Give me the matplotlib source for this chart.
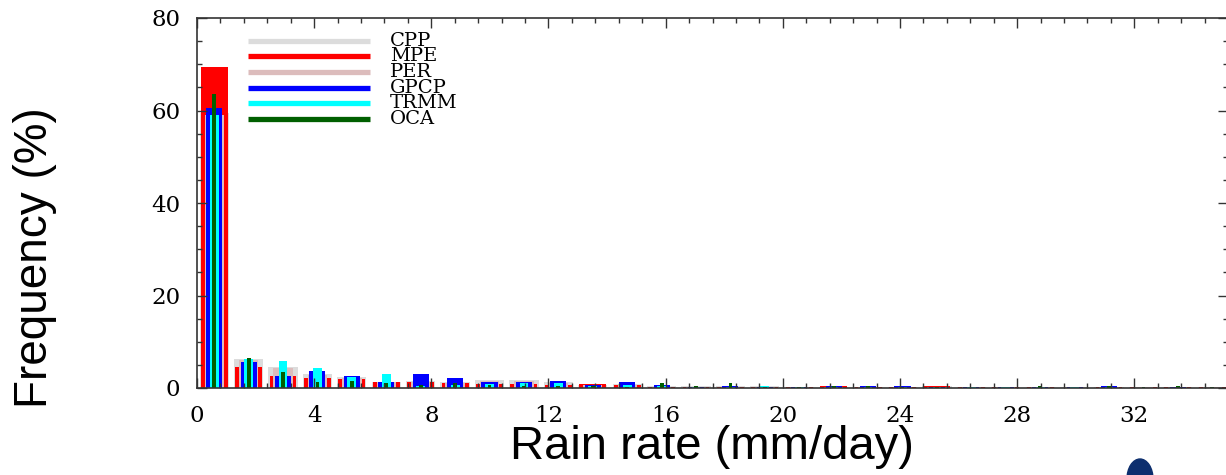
import numpy as np
import matplotlib
matplotlib.use("Agg")
import matplotlib.pyplot as plt
from matplotlib.lines import Line2D
from matplotlib.patches import Ellipse
from matplotlib.ticker import MultipleLocator

# Rain-rate histogram bins (mm/day)
bin_width = 1.175
bin_start = 0.0
n_bins = 30
bin_centers = bin_start + bin_width * (np.arange(n_bins) + 0.5)

# Frequency (%) per bin for each product
cpp = [59.5, 6.3, 4.5, 3.0, 2.4, 1.4, 1.5, 1.3, 1.7, 1.7,
       1.2, 0.7, 0.8, 0.4, 0.4, 0.4, 0.35, 0.3, 0.3, 0.3,
       0.25, 0.4, 0.3, 0.2, 0.25, 0.2, 0.2, 0.25, 0.2, 0.2]
mpe = [69.5, 4.5, 2.6, 2.1, 1.9, 1.4, 1.4, 1.1, 0.9, 0.9,
       0.6, 0.8, 0.6, 0.3, 0.3, 0.2, 0.2, 0.3, 0.35, 0.2,
       0.2, 0.4, 0.25, 0.15, 0.3, 0.1, 0.15, 0.25, 0.3, 0.2]
per = [59.0, 6.0, 4.3, 2.8, 2.2, 1.3, 1.3, 1.0, 1.6, 1.5,
       1.0, 0.6, 0.7, 0.3, 0.3, 0.3, 0.3, 0.25, 0.25, 0.25,
       0.2, 0.3, 0.2, 0.15, 0.2, 0.15, 0.15, 0.2, 0.2, 0.15]
gpcp = [60.5, 5.7, 2.6, 3.7, 2.6, 1.4, 3.0, 2.2, 1.2, 1.4,
        1.5, 0.55, 1.3, 0.65, 0.3, 0.4, 0.3, 0.2, 0.35, 0.45,
        0.4, 0.2, 0.2, 0.2, 0.2, 0.2, 0.4, 0.1, 0.2, 0.1]
trmm = [59.0, 6.2, 5.8, 4.4, 2.4, 3.0, 0.5, 0.6, 0.8, 1.15,
        1.0, 0.5, 0.6, 0.4, 0.25, 0.3, 0.35, 0.2, 0.2, 0.2,
        0.2, 0.2, 0.3, 0.25, 0.2, 0.15, 0.2, 0.1, 0.1, 0.1]
oca = [63.5, 6.5, 3.5, 1.4, 1.6, 1.0, 0.65, 1.0, 0.6, 0.45,
       0.4, 0.4, 0.3, 1.0, 0.45, 1.0, 0.2, 0.3, 0.45, 0.4,
       0.3, 0.15, 0.1, 0.1, 0.45, 0.1, 0.35, 0.2, 0.4, 0.3]

labels = ["CPP", "MPE", "PER", "GPCP", "TRMM", "OCA"]
series = [cpp, mpe, per, gpcp, trmm, oca]
colors = ["#dcdcdc", "#ff0000", "#dcbcbc", "#0000ff", "#00ffff", "#005f00"]
# nested bar widths, widest drawn first
widths = [1.0, 0.92, 0.66, 0.55, 0.3, 0.13]

x_ticks = [0, 4, 8, 12, 16, 20, 24, 28, 32]
y_ticks = [0, 20, 40, 60, 80]

W, H = 1226, 475
fig = plt.figure(figsize=(W / 100, H / 100), dpi=100)
ax = fig.add_axes([197 / W, (H - 388) / H, 1031 / W, 370 / H])

for vals, col, w in zip(series, colors, widths):
    ax.bar(bin_centers, vals, width=w * bin_width * 0.85, color=col,
           linewidth=0, zorder=1)

ax.set_xlim(0, 35.2)
ax.set_ylim(0, 80)
ax.set_xticks(x_ticks)
ax.set_yticks(y_ticks)
ax.xaxis.set_minor_locator(MultipleLocator(0.8))
ax.yaxis.set_minor_locator(MultipleLocator(5))
ax.tick_params(which="both", direction="in", top=True, right=True,
               color="#333333", width=1.0)
ax.tick_params(which="major", length=7)
ax.tick_params(which="minor", length=3.5)
ax.tick_params(axis="x", pad=12)
ax.tick_params(axis="y", pad=12)
for lab in ax.get_xticklabels() + ax.get_yticklabels():
    lab.set_family("DejaVu Serif")
    lab.set_fontsize(16.5)
for sp in ax.spines.values():
    sp.set_linewidth(1.2)
    sp.set_color("#333333")

ax.set_xlabel("Rain rate (mm/day)", family="Liberation Sans", fontsize=34,
              va="center")
ax.xaxis.set_label_coords(0.4995, (388 - 447) / 370)
ax.set_ylabel("Frequency (%)", family="Liberation Sans", fontsize=33,
              va="center")
ax.yaxis.set_label_coords((35 - 197) / 1031, (388 - 258) / 370)

# Legend: coloured line samples with serif labels
x0, x1 = (248 - 197) / 1031, (370 - 197) / 1031
for i, (lab, col) in enumerate(zip(labels, colors)):
    ypix = 40.5 + i * 15.7
    yf = (388 - ypix) / 370
    ax.add_line(Line2D([x0, x1], [yf, yf], transform=ax.transAxes,
                       color=col, linewidth=3.8, solid_capstyle="butt",
                       zorder=5))
    ax.text((390 - 197) / 1031, yf, lab, transform=ax.transAxes,
            family="DejaVu Serif", fontsize=14, va="center",
            ha="left", zorder=5)

# corner emblem
fig.patches.append(Ellipse((1140 / W, -4 / H), 26 / W, 40 / H,
                           transform=fig.transFigure, color="#0d2f6e",
                           zorder=0))

fig.savefig("out.png", dpi=100)
